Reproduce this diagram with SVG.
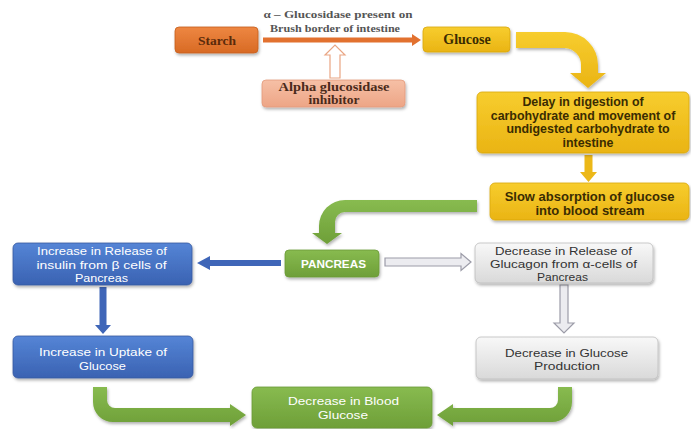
<svg xmlns="http://www.w3.org/2000/svg" width="691" height="429" viewBox="0 0 691 429">
<defs>
<filter id="sh" x="-10%" y="-20%" width="125%" height="150%"><feDropShadow dx="1" dy="2" stdDeviation="1.5" flood-color="#000" flood-opacity="0.3"/></filter>
<linearGradient id="gBlue" x1="0" y1="0" x2="0" y2="1"><stop offset="0" stop-color="#5585D6"/><stop offset="1" stop-color="#3A62B2"/></linearGradient>
<linearGradient id="gGreen" x1="0" y1="0" x2="0" y2="1"><stop offset="0" stop-color="#88BB50"/><stop offset="1" stop-color="#6E9F38"/></linearGradient>
<linearGradient id="gYellow" x1="0" y1="0" x2="0" y2="1"><stop offset="0" stop-color="#F7CD2E"/><stop offset="1" stop-color="#EAB414"/></linearGradient>
<linearGradient id="gGray" x1="0" y1="0" x2="0" y2="1"><stop offset="0" stop-color="#F8F8F8"/><stop offset="1" stop-color="#D9D9D9"/></linearGradient>
<linearGradient id="gOrange" x1="0" y1="0" x2="0" y2="1"><stop offset="0" stop-color="#EE8742"/><stop offset="1" stop-color="#D86A24"/></linearGradient>
<linearGradient id="gSalmon" x1="0" y1="0" x2="0" y2="1"><stop offset="0" stop-color="#F6C0A6"/><stop offset="1" stop-color="#EDA586"/></linearGradient>
</defs>
<style>
.box{filter:url(#sh);}
.serif{font-family:"Liberation Serif","Times New Roman",serif;font-weight:bold;text-anchor:middle;}
.sans{font-family:"Liberation Sans",Arial,sans-serif;text-anchor:middle;}
.yb{font-weight:bold;fill:#3A2C02;font-size:12.4px;}
.ys{font-weight:bold;fill:#3A2C02;font-size:13px;}
.wt{fill:#FFFFFF;font-size:11.5px;}
.dk{fill:#333333;font-size:11.5px;}
</style>
<rect width="691" height="429" fill="#FFFFFF"/>

<g id="connectors">
  <path d="M263,37.5 L412,37.5 L412,34 L421,40 L412,46 L412,42.5 L263,42.5 Z" fill="#E2712F"/>
  <path d="M330,78 L330,55 L325,55 L335,45 L345,55 L340,55 L340,78 Z" fill="#FFFFFF" stroke="#E9A583" stroke-width="1.2"/>
  <path d="M516,32 L565,32 A33,33 0 0 1 598,65 L598,73 L606,73 L588,88 L570,73 L581,73 L581,65 A17,17 0 0 0 565,48 L516,48 Z" fill="url(#gYellow)" class="box"/>
  <path d="M584.5,155 L592.5,155 L592.5,172 L597,172 L588.5,182 L580,172 L584.5,172 Z" fill="#ECB818"/>
  <path d="M477,200 L345,200 A26,26 0 0 0 319,226 L319,233 L312,233 L327,244 L342,233 L335,233 L335,222 A10,10 0 0 1 345,212 L477,212 Z" fill="url(#gGreen)" class="box"/>
  <path d="M281,260 L210,260 L210,256 L197,263 L210,270 L210,266 L281,266 Z" fill="#3F66B8"/>
  <path d="M385,258 L461,258 L461,253.5 L471,262 L461,270.5 L461,266 L385,266 Z" fill="#ECECF0" stroke="#9C9CA8" stroke-width="1.2"/>
  <path d="M99.5,287 L106.5,287 L106.5,325 L111,325 L103,334 L95,325 L99.5,325 Z" fill="#3F66B8"/>
  <path d="M560,285 L568,285 L568,323 L574,323 L564,333 L554,323 L560,323 Z" fill="#ECECF0" stroke="#9C9CA8" stroke-width="1.2"/>
  <path d="M93,387 L107,387 L107,400 A8,8 0 0 0 115,408 L230,408 L230,404 L246,415 L230,426 L230,422 L113,422 A20,20 0 0 1 93,402 Z" fill="url(#gGreen)" class="box"/>
  <path d="M572,387 L558,387 L558,400 A8,8 0 0 1 550,408 L453,408 L453,404 L437,415 L453,426 L453,422 L552,422 A20,20 0 0 0 572,402 Z" fill="url(#gGreen)" class="box"/>
  <text class="serif" x="338" y="18" font-size="11" fill="#555555" textLength="149" lengthAdjust="spacingAndGlyphs">α – Glucosidase present on</text>
  <text class="serif" x="335" y="32" font-size="11" fill="#555555" textLength="130" lengthAdjust="spacingAndGlyphs">Brush border of intestine</text>
</g>

<g id="starch">
  <rect class="box" x="175" y="27" width="83" height="26" rx="4" fill="url(#gOrange)" stroke="#C55E1C" stroke-width="0.8"/>
  <text class="serif" x="217" y="44.5" font-size="13.5" fill="#5A2A0A">Starch</text>
</g>
<g id="inhibitor">
  <rect class="box" x="262" y="80" width="143" height="27" rx="4" fill="url(#gSalmon)" stroke="#E39A7C" stroke-width="0.8"/>
  <text class="serif" x="334" y="90.5" font-size="11.5" fill="#4A2A1A" textLength="111" lengthAdjust="spacingAndGlyphs">Alpha glucosidase</text>
  <text class="serif" x="334" y="103.5" font-size="11.5" fill="#4A2A1A" textLength="51" lengthAdjust="spacingAndGlyphs">inhibitor</text>
</g>
<g id="glucose">
  <rect class="box" x="423" y="27" width="87" height="25" rx="4" fill="url(#gYellow)" stroke="#D9A70E" stroke-width="0.8"/>
  <text class="serif" x="467" y="44" font-size="14" fill="#3A2C02">Glucose</text>
</g>
<g id="delay">
  <rect class="box" x="477" y="92" width="212" height="61" rx="5" fill="url(#gYellow)" stroke="#D9A70E" stroke-width="0.8"/>
  <text class="sans yb" x="583" y="106">Delay in digestion of</text>
  <text class="sans yb" x="583" y="119.5">carbohydrate and movement of</text>
  <text class="sans yb" x="588" y="133">undigested carbohydrate to</text>
  <text class="sans yb" x="588" y="146.5">intestine</text>
</g>
<g id="slow">
  <rect class="box" x="490" y="183" width="199" height="37" rx="5" fill="url(#gYellow)" stroke="#D9A70E" stroke-width="0.8"/>
  <text class="sans ys" x="589.5" y="201">Slow absorption of glucose</text>
  <text class="sans ys" x="590" y="215">into blood stream</text>
</g>
<g id="pancreas">
  <rect class="box" x="285" y="250" width="94" height="27" rx="4" fill="url(#gGreen)" stroke="#6A9A35" stroke-width="0.8"/>
  <text class="sans wt" x="333.5" y="268" font-weight="bold" textLength="65" lengthAdjust="spacingAndGlyphs">PANCREAS</text>
</g>
<g id="insulin">
  <rect class="box" x="13" y="243" width="179" height="42" rx="5" fill="url(#gBlue)" stroke="#3558A0" stroke-width="0.8"/>
  <text class="sans wt" x="102" y="255" textLength="130" lengthAdjust="spacingAndGlyphs">Increase in Release of</text>
  <text class="sans wt" x="101.5" y="268.5" textLength="130" lengthAdjust="spacingAndGlyphs">insulin from β cells of</text>
  <text class="sans wt" x="101.5" y="282" textLength="53" lengthAdjust="spacingAndGlyphs">Pancreas</text>
</g>
<g id="glucagon">
  <rect class="box" x="475" y="243" width="178" height="40" rx="5" fill="url(#gGray)" stroke="#BDBDBD" stroke-width="0.8"/>
  <text class="sans dk" x="563.5" y="254.5" textLength="137" lengthAdjust="spacingAndGlyphs">Decrease in Release of</text>
  <text class="sans dk" x="563.5" y="267.5" textLength="147" lengthAdjust="spacingAndGlyphs">Glucagon from α-cells of</text>
  <text class="sans dk" x="562.5" y="280.5" textLength="51" lengthAdjust="spacingAndGlyphs">Pancreas</text>
</g>
<g id="uptake">
  <rect class="box" x="13" y="336" width="180" height="42" rx="5" fill="url(#gBlue)" stroke="#3558A0" stroke-width="0.8"/>
  <text class="sans wt" x="103" y="356" textLength="128" lengthAdjust="spacingAndGlyphs">Increase in Uptake of</text>
  <text class="sans wt" x="102.5" y="369.5" textLength="47" lengthAdjust="spacingAndGlyphs">Glucose</text>
</g>
<g id="production">
  <rect class="box" x="476" y="337" width="182" height="42" rx="5" fill="url(#gGray)" stroke="#BDBDBD" stroke-width="0.8"/>
  <text class="sans dk" x="566.5" y="356.5" textLength="123" lengthAdjust="spacingAndGlyphs">Decrease in Glucose</text>
  <text class="sans dk" x="567" y="370" textLength="66" lengthAdjust="spacingAndGlyphs">Production</text>
</g>
<g id="blood">
  <rect class="box" x="252" y="387" width="180" height="41" rx="5" fill="url(#gGreen)" stroke="#6A9A35" stroke-width="0.8"/>
  <text class="sans wt" x="343.5" y="404.5" textLength="111" lengthAdjust="spacingAndGlyphs">Decrease in Blood</text>
  <text class="sans wt" x="343" y="419" textLength="50" lengthAdjust="spacingAndGlyphs">Glucose</text>
</g>
</svg>
